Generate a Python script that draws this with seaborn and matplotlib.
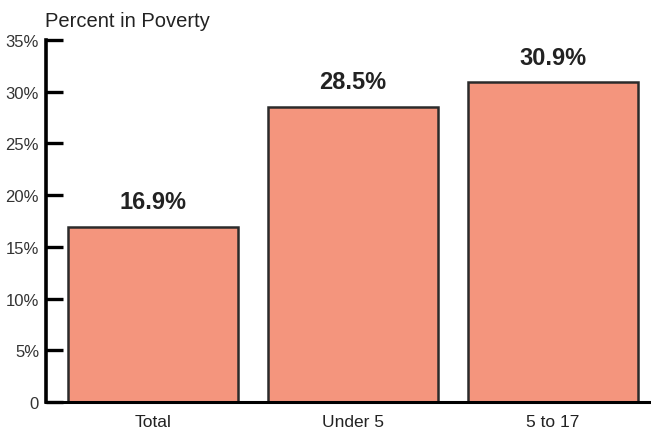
import matplotlib
matplotlib.use("Agg")
import matplotlib.pyplot as plt
import seaborn as sns
import pandas as pd

# Poverty rate by age group
groups = ["Total", "Under 5", "5 to 17"]
poverty_pct = [16.9, 28.5, 30.9]
y_ticks = [0, 5, 10, 15, 20, 25, 30, 35]
y_tick_labels = ["0", "5%", "10%", "15%", "20%", "25%", "30%", "35%"]

df = pd.DataFrame({"group": groups, "pct": poverty_pct})

sns.set_style("white")
plt.rcParams["font.family"] = ["Liberation Sans", "DejaVu Sans"]

W, H = 651, 435
fig = plt.figure(figsize=(W / 100, H / 100), dpi=100)
ax = fig.add_axes([46 / W, (H - 403) / H, (W - 46) / W, (403 - 41) / H])

sns.barplot(data=df, x="group", y="pct", color="#F4957D", saturation=1,
            width=0.85, edgecolor="#2b2b2b", linewidth=1.8, ax=ax)

ax.set_ylim(0, 35)
ax.set_xlim(-0.535, 2.49)
ax.set_yticks(y_ticks)
ax.set_yticklabels(y_tick_labels)
ax.set_xlabel("")
ax.set_ylabel("")

for s in ["top", "right"]:
    ax.spines[s].set_visible(False)
ax.spines["left"].set_linewidth(2.6)
ax.spines["bottom"].set_linewidth(2.2)
ax.spines["left"].set_color("black")
ax.spines["bottom"].set_color("black")

ax.tick_params(axis="y", left=True, direction="in", length=12, width=2.4,
               color="black", labelsize=12, labelcolor="#333333", pad=5)
ax.tick_params(axis="x", bottom=False, length=0, labelsize=12.5,
               labelcolor="#222222", pad=9)

for i, v in enumerate(poverty_pct):
    ax.annotate(f"{v}%", xy=(i, v), xytext=(0, 10), textcoords="offset points",
                ha="center", va="bottom", fontsize=17, fontweight="bold",
                color="#222222")

fig.text(45 / W, 1 - 27 / H, "Percent in Poverty", fontsize=14.5,
         color="#222222", ha="left", va="baseline")

fig.savefig("out.png", dpi=100)
